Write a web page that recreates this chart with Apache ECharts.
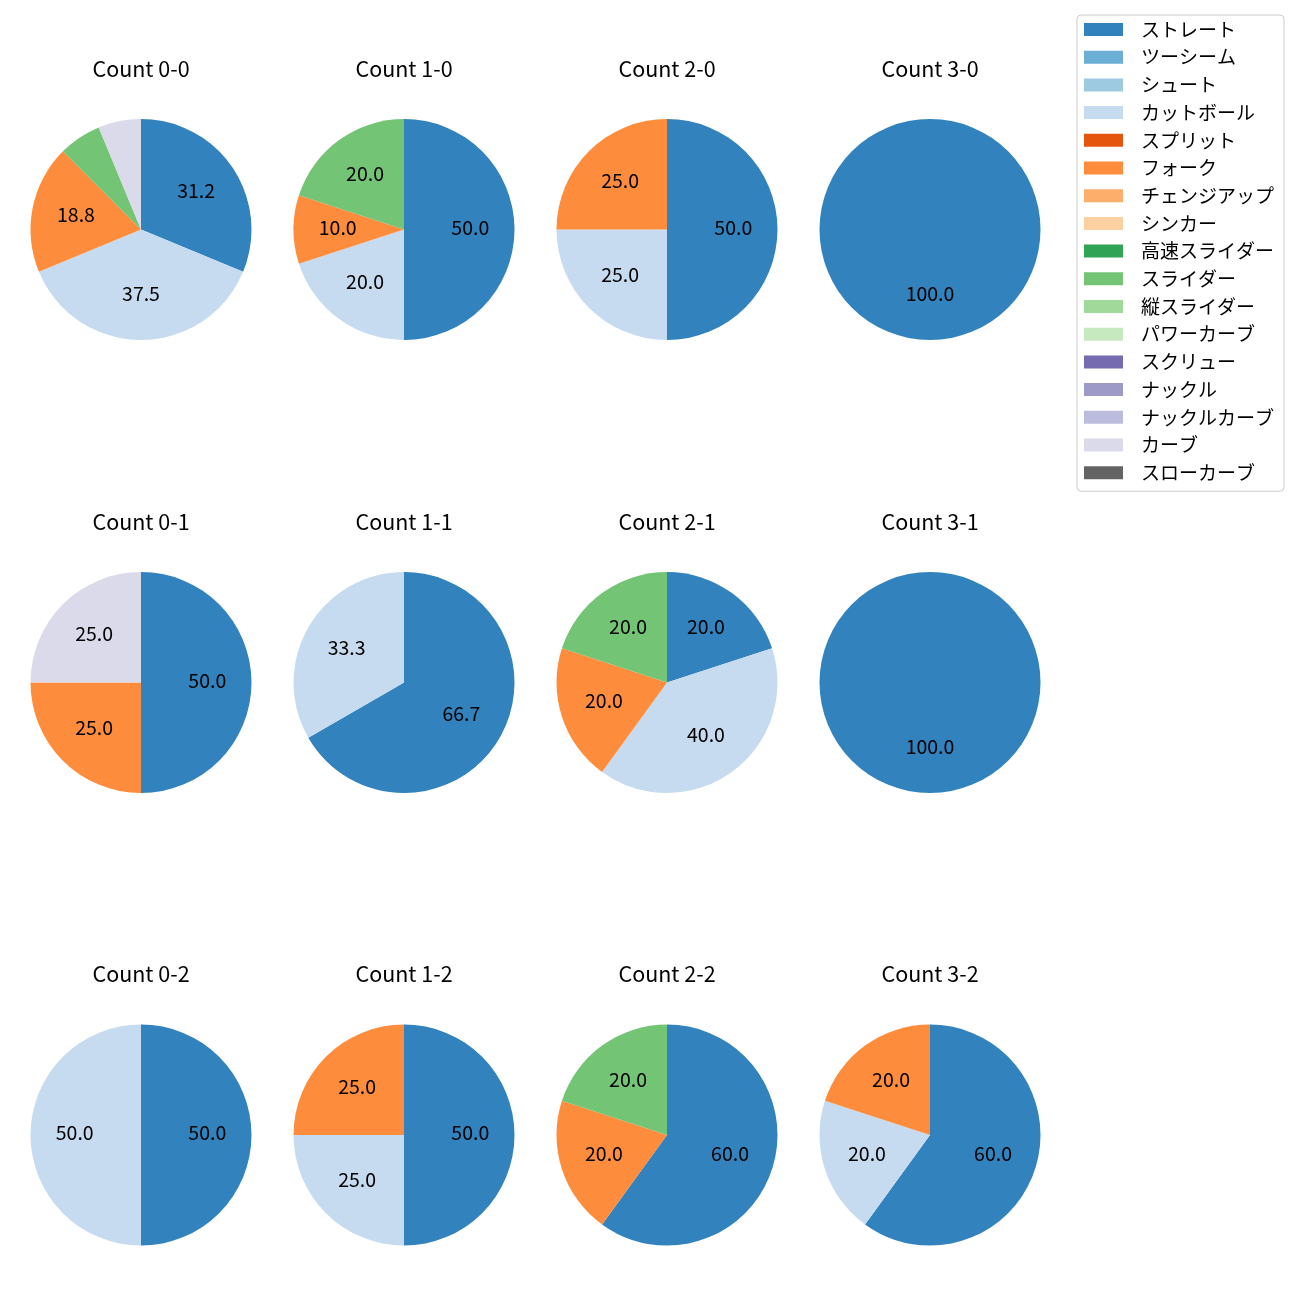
<!DOCTYPE html>
<html>
<head>
<meta charset="utf-8">
<script src="https://cdn.jsdelivr.net/npm/echarts@6/dist/echarts.min.js"></script>
<style>
html,body{margin:0;padding:0;background:#fff;}
#chart{width:1300px;height:1300px;}
</style>
</head>
<body>
<div id="chart"></div>
<script>
// pitch types (legend order)
const categories = ['ストレート','ツーシーム','シュート','カットボール','スプリット','フォーク','チェンジアップ','シンカー','高速スライダー','スライダー','縦スライダー','パワーカーブ','スクリュー','ナックル','ナックルカーブ','カーブ','スローカーブ'];
const colors = ['#3182bd','#6baed6','#9ecae1','#c6dbef','#e6550d','#fd8d3c','#fdae6b','#fdd0a2','#31a354','#74c476','#a1d99b','#c7e9c0','#756bb1','#9e9ac8','#bcbddc','#dadaeb','#636363'];

// pitch counts per ball-strike count, in category order
const count_0_0 = [5,0,0,6,0,3,0,0,0,1,0,0,0,0,0,1,0];
const count_1_0 = [5,0,0,2,0,1,0,0,0,2,0,0,0,0,0,0,0];
const count_2_0 = [2,0,0,1,0,1,0,0,0,0,0,0,0,0,0,0,0];
const count_3_0 = [1,0,0,0,0,0,0,0,0,0,0,0,0,0,0,0,0];
const count_0_1 = [2,0,0,0,0,1,0,0,0,0,0,0,0,0,0,1,0];
const count_1_1 = [2,0,0,1,0,0,0,0,0,0,0,0,0,0,0,0,0];
const count_2_1 = [1,0,0,2,0,1,0,0,0,1,0,0,0,0,0,0,0];
const count_3_1 = [1,0,0,0,0,0,0,0,0,0,0,0,0,0,0,0,0];
const count_0_2 = [1,0,0,1,0,0,0,0,0,0,0,0,0,0,0,0,0];
const count_1_2 = [2,0,0,1,0,1,0,0,0,0,0,0,0,0,0,0,0];
const count_2_2 = [3,0,0,0,0,1,0,0,0,1,0,0,0,0,0,0,0];
const count_3_2 = [3,0,0,1,0,1,0,0,0,0,0,0,0,0,0,0,0];

const titles = ['Count 0-0','Count 1-0','Count 2-0','Count 3-0','Count 0-1','Count 1-1','Count 2-1','Count 3-1','Count 0-2','Count 1-2','Count 2-2','Count 3-2'];
const panels = [count_0_0,count_1_0,count_2_0,count_3_0,count_0_1,count_1_1,count_2_1,count_3_1,count_0_2,count_1_2,count_2_2,count_3_2];

const colX = [141, 404, 667, 930];
const rowY = [229.5, 682.5, 1135];
const R = 110.5;
// ECharts puts inside labels at (r+r0)/2 + 3px; aim for 0.6*R like matplotlib
const R0 = 2 * (0.6 * R - 3) - R;
const FONT = '"Noto Sans CJK JP", "Noto Sans", sans-serif';

function fmtPct(p) {
  const x = p * 10;
  const f = Math.floor(x);
  let n;
  if (Math.abs(x - f - 0.5) < 1e-9) n = (f % 2 === 0) ? f : f + 1;
  else n = Math.round(x);
  return (n / 10).toFixed(1);
}

const series = [];
const overlays = [];
const title = [];
panels.forEach((vals, i) => {
  const cx = colX[i % 4], cy = rowY[Math.floor(i / 4)];
  const total = vals.reduce((a, b) => a + b, 0);
  const data = categories.map((c, k) => ({ name: c, value: vals[k], itemStyle: { color: colors[k] } }));
  series.push({
    type: 'pie', center: [cx, cy], radius: [0, R], startAngle: 90, clockwise: true,
    silent: true, animation: false, avoidLabelOverlap: false,
    itemStyle: { borderWidth: 0 }, label: { show: false }, labelLine: { show: false },
    data: data
  });
  overlays.push({
    type: 'pie', center: [cx, cy], radius: [R0, R], startAngle: 90, clockwise: true,
    silent: true, animation: false, avoidLabelOverlap: false,
    itemStyle: { color: 'rgba(0,0,0,0)', borderWidth: 0 },
    label: {
      show: true, position: 'inside', color: '#000', fontSize: 19.5, fontFamily: FONT,
      offset: [0, -2],
      formatter: (p) => { const pct = p.value / total * 100; return pct >= 9.99 ? fmtPct(pct) : ''; }
    },
    labelLine: { show: false },
    data: categories.map((c, k) => ({ name: c, value: vals[k] }))
  });
  title.push({
    text: titles[i], left: cx, top: cy - 171.5, textAlign: 'center', padding: 0,
    textStyle: { fontSize: 21.5, fontWeight: 'normal', color: '#000', fontFamily: FONT }
  });
});

const chart = echarts.init(document.getElementById('chart'), null, { renderer: 'canvas' });
chart.setOption({
  backgroundColor: '#fff',
  animation: false,
  title: title,
  legend: {
    data: categories, orient: 'vertical', left: 1077, top: 15,
    padding: [5, 10, 9, 7], itemWidth: 39, itemHeight: 13, itemGap: 8.7,
    icon: 'rect', borderColor: '#cccccc', borderWidth: 1, borderRadius: 4,
    selectedMode: false,
    textStyle: { fontSize: 19, color: '#000', fontFamily: FONT, padding: [0, 0, 0, 13] }
  },
  series: series.concat(overlays)
});
</script>
</body>
</html>
